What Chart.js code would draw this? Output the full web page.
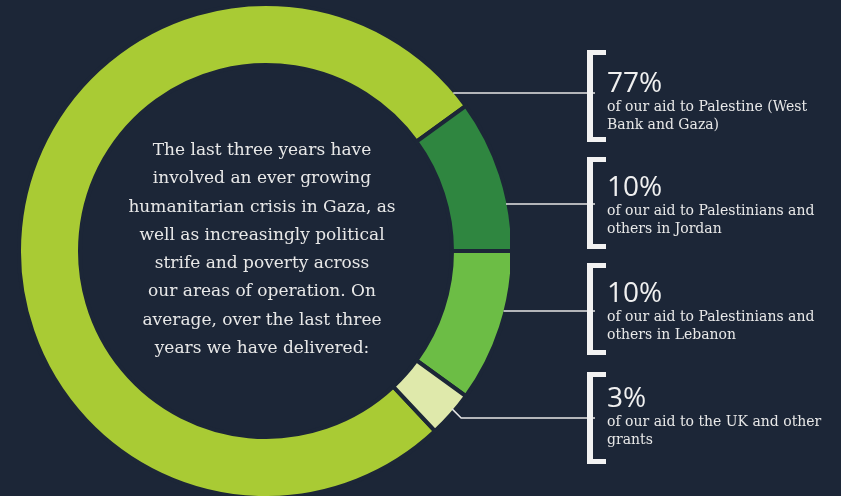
<!DOCTYPE html>
<html>
<head>
<meta charset="utf-8">
<script src="https://cdn.jsdelivr.net/npm/chart.js@4.4.0/dist/chart.umd.min.js"></script>
<style>
  html, body { margin: 0; padding: 0; background: #1c2637; }
  #wrap { position: relative; width: 841px; height: 496px; overflow: hidden; background: #1c2637; }
  #chart { position: absolute; left: 0; top: 0; }
  .intro {
    position: absolute; left: 107px; top: 135px; width: 310px;
    text-align: center; color: #e8e8e8;
    font-family: "DejaVu Serif", serif; font-size: 17px; line-height: 28.3px;
    white-space: nowrap;
  }
  .bracket {
    position: absolute; left: 587px; width: 13px; height: 82px;
    border-left: 6px solid #f2f2f2; border-top: 5px solid #f2f2f2; border-bottom: 5px solid #f2f2f2;
  }
  .label { position: absolute; left: 607px; color: #f0f0f0; white-space: nowrap; }
  .label .pct { font-family: "Open Sans", sans-serif; font-size: 28px; line-height: 28px; }
  .label .desc { font-family: "DejaVu Serif", serif; font-size: 14px; line-height: 18px; margin-top: 1.5px; color: #e8e8e8; }
</style>
</head>
<body>
<div id="wrap">
  <canvas id="chart" width="841" height="496"></canvas>
  <div class="intro" id="intro"></div>
  <div id="labels"></div>
</div>
<script>
// data
const categories = ['Palestine (West Bank and Gaza)', 'Palestinians and others in Jordan', 'Palestinians and others in Lebanon', 'UK and other grants'];
const shares = [77, 10, 10, 3];
const descriptions = [
  ['of our aid to Palestine (West', 'Bank and Gaza)'],
  ['of our aid to Palestinians and', 'others in Jordan'],
  ['of our aid to Palestinians and', 'others in Lebanon'],
  ['of our aid to the UK and other', 'grants']
];
const segmentColors = ['#a9cb34', '#2f8640', '#6cbd45', '#dfe9ab'];
const introLines = [
  'The last three years have',
  'involved an ever growing',
  'humanitarian crisis in Gaza, as',
  'well as increasingly political',
  'strife and poverty across',
  'our areas of operation. On',
  'average, over the last three',
  'years we have delivered:'
];

// layout of the callouts on the right
const bracketTops = [50, 157, 263, 372];
const connectorY = [93, 204, 311, 418];
const pctBaselines = [92, 196, 302, 407];
const bg = '#1c2637';
const lineColor = '#e6e6e6';

document.getElementById('intro').innerHTML = introLines.join('<br>');

const labelsEl = document.getElementById('labels');
shares.forEach((v, i) => {
  const b = document.createElement('div');
  b.className = 'bracket';
  b.style.top = bracketTops[i] + 'px';
  labelsEl.appendChild(b);

  const l = document.createElement('div');
  l.className = 'label';
  l.style.top = (pctBaselines[i] - 25) + 'px';
  l.innerHTML = '<div class="pct">' + v + '%</div><div class="desc">' + descriptions[i].join('<br>') + '</div>';
  labelsEl.appendChild(l);
});

// the ring is cut off flat on its right side
const clipRight = {
  id: 'clipRight',
  beforeDatasetsDraw(chart) {
    const ctx = chart.ctx;
    ctx.save();
    ctx.beginPath();
    ctx.rect(0, 0, 510, chart.height);
    ctx.clip();
  },
  afterDatasetsDraw(chart) {
    chart.ctx.restore();
  }
};

const connectors = {
  id: 'connectors',
  afterDraw(chart) {
    const ctx = chart.ctx;
    const arcs = chart.getDatasetMeta(0).data;
    ctx.save();
    ctx.strokeStyle = lineColor;
    ctx.lineWidth = 1.5;
    arcs.forEach((arc, i) => {
      const cx = arc.x, cy = arc.y, R = arc.outerRadius - 2;
      const y = connectorY[i];
      ctx.beginPath();
      if (i === arcs.length - 1) {
        // small slice: start inside it and kink down to the line
        const a = arc.startAngle + 0.4 * (arc.endAngle - arc.startAngle);
        const sx = cx + (R - 1) * Math.cos(a);
        const sy = cy + (R - 1) * Math.sin(a);
        ctx.moveTo(sx, sy);
        ctx.lineTo(sx + (y - sy), y);
      } else {
        const dy = y - cy;
        const sx = Math.min(cx + Math.sqrt(Math.max(R * R - dy * dy, 0)), 506);
        ctx.moveTo(sx, y);
      }
      ctx.lineTo(595, y);
      ctx.stroke();
    });
    ctx.restore();
  }
};

new Chart(document.getElementById('chart'), {
  type: 'doughnut',
  data: {
    labels: categories,
    datasets: [{
      data: shares,
      backgroundColor: segmentColors,
      borderColor: bg,
      borderWidth: 4,
      radius: 247,
      cutout: '75.3%'
    }]
  },
  options: {
    responsive: false,
    animation: false,
    rotation: -223.2,
    radius: 247,
    cutout: '75.3%',
    layout: { padding: { left: 0, right: 841 - 532, top: 6, bottom: 0 } },
    plugins: {
      legend: { display: false },
      tooltip: { enabled: false }
    }
  },
  plugins: [clipRight, connectors]
});
</script>
</body>
</html>
